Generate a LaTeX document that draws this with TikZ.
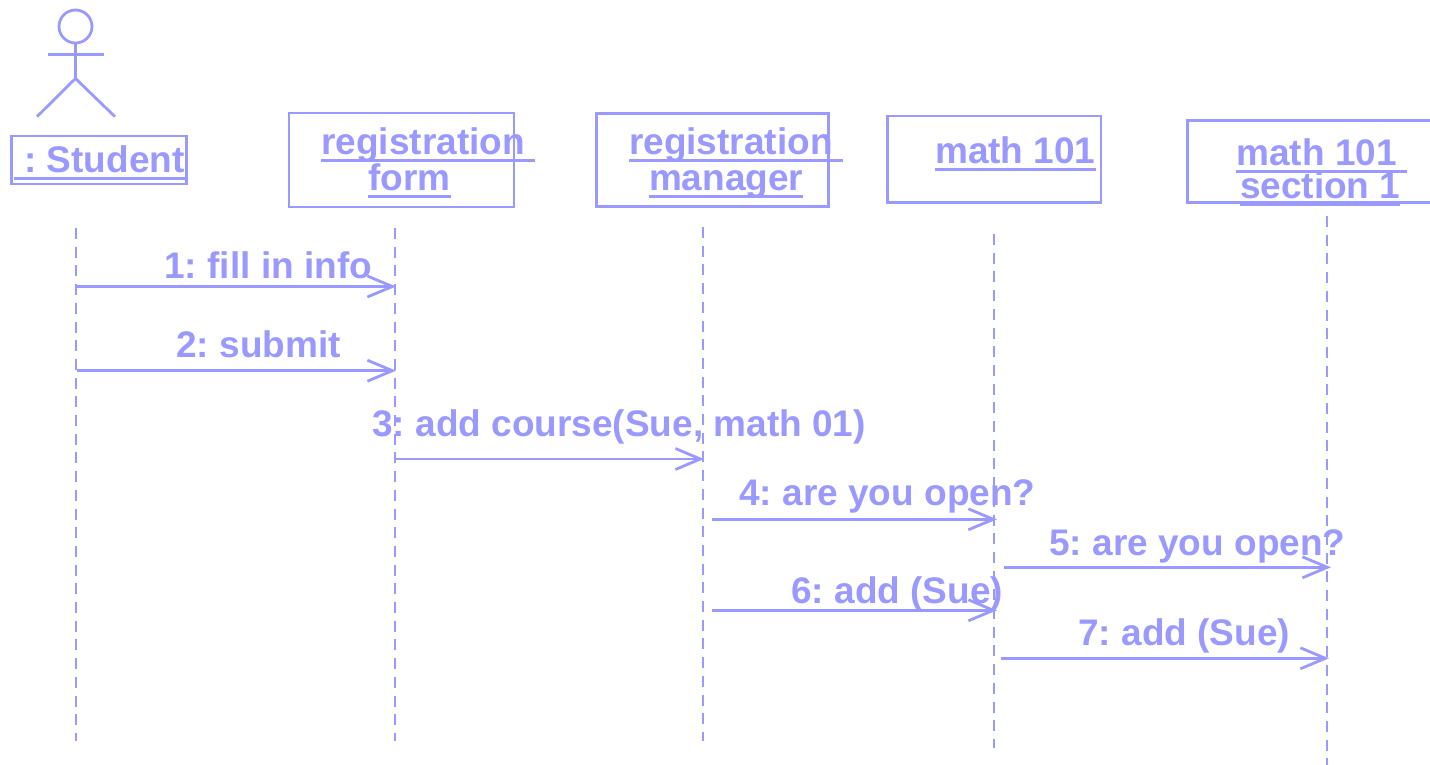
\documentclass[tikz,border=0pt]{standalone}
\usepackage{fontspec}
\setmainfont{Liberation Sans}
\usetikzlibrary{arrows.meta}
\definecolor{umlblue}{RGB}{153,153,255}
\newcommand{\ulin}[1]{\setbox0=\hbox{#1}\rlap{\rule[-7.3pt]{\wd0}{2.8pt}}\box0}
\frenchspacing

\begin{document}
\begin{tikzpicture}[x = 1pt, y = -1pt, line width = 2.8pt, color = umlblue,
  >={Straight Barb[length=25pt,width=21pt]},
  obj/.style = {shape = rectangle, draw = umlblue, inner sep = 0pt},
  lbl/.style = {anchor = base west, inner sep = 0pt, text = umlblue,
    font = \bfseries\fontsize{37}{35}\selectfont},
  msg/.style = {->},
  life/.style = {dash pattern = on 11pt off 7.7pt}]
\useasboundingbox (0,0) rectangle (1430,765);

% actor
\node[shape = circle, draw = umlblue, minimum size = 33pt, inner sep = 0pt](head) at (75.5,26.5) {};
\coordinate (hip) at (75.5,78.5);
\coordinate (handL) at (48,54.5);
\coordinate (handR) at (103.5,54.5);
\coordinate (footL) at (37,116.7);
\coordinate (footR) at (115,116.7);
\draw (head.south) -- (hip);
\draw (handL) -- (handR);
\draw (footL) -- (hip) -- (footR);

% objects
\node[obj, minimum width = 175pt, minimum height = 48pt](student) at (99.3,160) {};
\node[obj, minimum width = 225pt, minimum height = 94pt](form) at (401.5,160) {};
\node[obj, minimum width = 231.6pt, minimum height = 93.4pt](manager) at (712.5,160) {};
\node[obj, minimum width = 213.3pt, minimum height = 86.7pt](math) at (994.3,159.3) {};
\node[obj, minimum width = 260pt, minimum height = 82pt](section) at (1317.7,161.7) {};

\node[lbl](studentT) at (12.6,172.7) {\ulin{\ : Student}};
\node[lbl](formT) at (320,155) {\ulin{registration\ }};
\node[lbl](formB) at (367,190.7) {\ulin{form}};
\node[lbl](managerT) at (627.7,154.3) {\ulin{registration\ }};
\node[lbl](managerB) at (647.7,190.7) {\ulin{manager}};
\node[lbl](mathT) at (933.7,163.3) {\ulin{math 101}};
\node[lbl](sectionT) at (1235,165.7) {\ulin{math 101\ }};
\node[lbl](sectionB) at (1238.6,198.3) {\ulin{section 1}};

% lifelines
\coordinate (s0) at (76,228);   \coordinate (s9) at (76,741);
\coordinate (f0) at (395,228);  \coordinate (f9) at (395,741);
\coordinate (r0) at (703,227);  \coordinate (r9) at (703,741);
\coordinate (m0) at (994,234);  \coordinate (m9) at (994,748);
\coordinate (c0) at (1327,216); \coordinate (c9) at (1327,765);
\path [life] (s0) edge (s9);
\path [life] (f0) edge (f9);
\path [life] (r0) edge (r9);
\path [life] (m0) edge (m9);
\path [life] (c0) edge (c9);

% messages
\coordinate (s1) at (76,286.5);   \coordinate (f1) at (396,286.5);
\coordinate (s2) at (77,370.7);   \coordinate (f2) at (396,370.7);
\coordinate (f3) at (396,459);    \coordinate (r3) at (704,459);
\coordinate (r4) at (712,519.3);  \coordinate (m4) at (997,519.3);
\coordinate (m5) at (1004,567.3); \coordinate (c5) at (1331,567.3);
\coordinate (r6) at (712,610.3);  \coordinate (m6) at (997,610.3);
\coordinate (m7) at (1001,658.3); \coordinate (c7) at (1329,658.3);
\path (s1) edge[msg] (f1);
\path (s2) edge[msg] (f2);
\path (f3) edge[msg] (r3);
\path (r4) edge[msg] (m4);
\path (m5) edge[msg] (c5);
\path (r6) edge[msg] (m6);
\path (m7) edge[msg] (c7);

\node[lbl](fill) at (163,278.3) {1: fill in info};
\node[lbl](submit) at (175,357.3) {2: submit};
\node[lbl](course) at (371,436.7) {3: add course(Sue, math 01)};
\node[lbl](openA) at (738,505) {4: are you open?};
\node[lbl](openB) at (1048,555) {5: are you open?};
\node[lbl](addA) at (790,603) {6: add (Sue)};
\node[lbl](addB) at (1077,645) {7: add (Sue)};
\end{tikzpicture}
\end{document}
